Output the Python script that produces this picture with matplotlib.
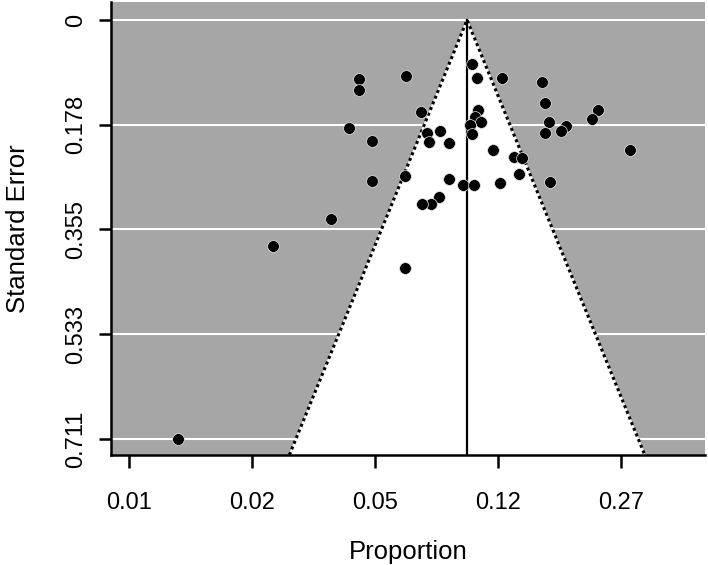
import numpy as np
import matplotlib
matplotlib.use("Agg")
import matplotlib.pyplot as plt

plt.rcParams['font.family'] = ['Liberation Sans', 'DejaVu Sans']

# logit-transformed proportions and their standard errors
yi = [-2.214, -2.173, -1.967, -1.646, -1.620, -3.131, -3.131, -2.749, -2.629,
      -3.215, -2.161, -2.187, -2.142, -2.230, -2.214, -1.583, -1.620, -1.449,
      -1.486, -1.189, -1.237, -0.926, -3.025, -2.578, -2.472, -2.564, -2.397,
      -2.039, -1.874, -1.809, -1.827, -3.024, -2.757, -2.397, -2.285, -2.195,
      -1.981, -1.574, -2.482, -2.543, -2.616, -2.757, -3.359, -3.833, -4.601]
sei = [0.0751, 0.0978, 0.0978, 0.1051, 0.1402, 0.1001, 0.1182, 0.0950, 0.1555,
       0.1831, 0.1526, 0.1653, 0.1730, 0.1786, 0.1928, 0.1725, 0.1911, 0.1798,
       0.1879, 0.1523, 0.1679, 0.2208, 0.2052, 0.1916, 0.1877, 0.2072, 0.2081,
       0.2201, 0.2332, 0.2340, 0.2608, 0.2734, 0.2642, 0.2701, 0.2803, 0.2803,
       0.2759, 0.2756, 0.3007, 0.3129, 0.3129, 0.4200, 0.3380, 0.3833, 0.7110]
pooled = -2.252  # summary estimate (logit)

x_ticks = [-5, -4, -3, -2, -1]
x_labels = ['0.01', '0.02', '0.05', '0.12', '0.27']
y_ticks = [0, 0.178, 0.355, 0.533, 0.711]
y_labels = ['0', '0.178', '0.355', '0.533', '0.711']

fig = plt.figure(figsize=(7.08, 5.65), dpi=100)
ax = fig.add_axes([0.1568, 0.1947, 0.8390, 0.8018])

ylim_bottom = 0.7377
ax.set_xlim(-5.149, -0.316)
ax.set_ylim(ylim_bottom, -0.0305)
ax.set_facecolor('#a6a6a6')

# grid lines on the grey background
for t in y_ticks:
    ax.axhline(t, color='white', lw=1.5, zorder=1)

# funnel (pseudo 95% CI region)
lo = pooled - 1.96 * ylim_bottom
hi = pooled + 1.96 * ylim_bottom
ax.fill([lo, pooled, hi], [ylim_bottom, 0, ylim_bottom], color='white', zorder=2)
ax.plot([lo, pooled, hi], [ylim_bottom, 0, ylim_bottom], color='black',
        lw=2.2, linestyle=(0, (1, 1)), zorder=3)
ax.plot([pooled, pooled], [0, ylim_bottom], color='black', lw=1.6, zorder=3)

ax.scatter(yi, sei, s=72, color='black', edgecolors='#e8e8e8', linewidths=0.5,
           zorder=4, clip_on=False)

ax.set_xticks(x_ticks)
ax.set_xticklabels(x_labels)
ax.set_yticks(y_ticks)
ax.set_yticklabels(y_labels, rotation=90, va='center')

for side in ['top', 'right']:
    ax.spines[side].set_visible(False)
for side in ['left', 'bottom']:
    ax.spines[side].set_linewidth(1.8)
    ax.spines[side].set_zorder(5)

ax.tick_params(axis='both', direction='out', length=9, width=1.8,
               labelsize=17)
ax.tick_params(axis='x', pad=17.5)
ax.tick_params(axis='y', pad=8.3)

ax.set_xlabel('Proportion', fontsize=18.5, labelpad=18.7)
ax.set_ylabel('Standard Error', fontsize=18.5, labelpad=25.5)

fig.savefig('out.png', dpi=100)
